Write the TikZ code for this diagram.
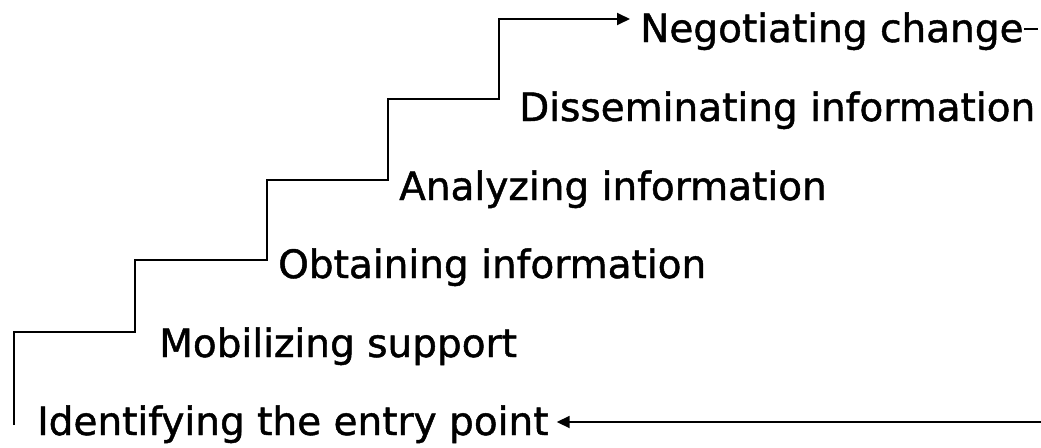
\documentclass[tikz,border=0pt]{standalone}
\usepackage{fontspec}
\setmainfont{DejaVu Sans}
\newfontfamily\lblfont{DejaVu Sans}[FakeBold=1.2]
\usetikzlibrary{arrows.meta,calc}
\begin{document}
\begin{tikzpicture}[x=1pt,y=-1pt,
  lbl/.style={anchor=base west,inner sep=0pt,font=\lblfont\fontsize{39}{47}\selectfont},
  stair/.style={line width=1.8pt,line join=miter},
  arrowtip/.style={-{Triangle[length=13pt,width=12pt]}}]
\useasboundingbox (0,0) rectangle (1041,447);
\node[lbl] (id)  at (37,435)  {Identifying the entry point};
\node[lbl] (mob) at (159,357) {Mobilizing support};
\node[lbl] (obt) at (278,278) {Obtaining information};
\node[lbl] (ana) at (399,200) {Analyzing information};
\node[lbl] (dis) at (519,121) {Disseminating information};
\node[lbl] (neg) at (640,42)  {Negotiating change};
% staircase
\coordinate (s0) at (14,425);
\coordinate (s1) at (135,332);
\coordinate (s2) at (267,260);
\coordinate (s3) at (388,180);
\coordinate (s4) at (499,99);
\coordinate (s5) at (630,19);
\draw[stair,arrowtip] (s0) |- (s1) |- (s2) |- (s3) |- (s4) |- (s5);
% bottom return arrow
\coordinate (rin) at (1041,422);
\draw[stair,arrowtip] (rin) -- ([xshift=8pt]rin -| id.east);
% stub after the top label
\coordinate (da) at (1024,29);
\coordinate (db) at (1038,29);
\draw[stair] (da) -- (db);
\end{tikzpicture}
\end{document}
